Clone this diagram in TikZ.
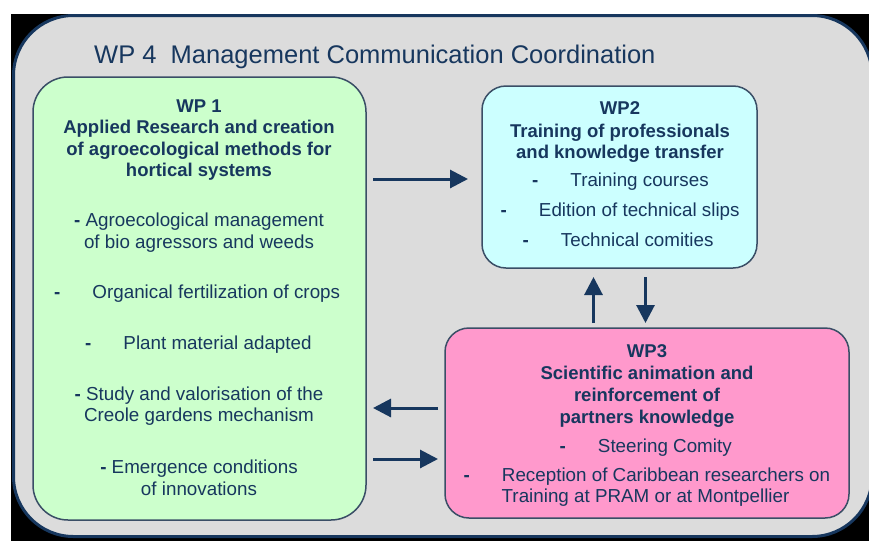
\documentclass[tikz,border=0pt]{standalone}
\usepackage{fontspec}
\setmainfont{Liberation Sans}
\usetikzlibrary{arrows.meta}

\definecolor{navy}{HTML}{17375E}
\definecolor{panel}{HTML}{DCDCDC}
\definecolor{edge}{HTML}{3A4E66}
\definecolor{wpgreen}{HTML}{CCFFCC}
\definecolor{wpcyan}{HTML}{CCFFFF}
\definecolor{wppink}{HTML}{FF99CC}

\newcommand\bodysize{\fontsize{18.8}{22}\selectfont}
\newcommand\headsize{\fontsize{18.5}{21.5}\selectfont\bfseries}
\newcommand\wpdash{\textbf{-}}
\newcommand\wpgap{\hspace{32pt}}

\begin{document}
\begin{tikzpicture}[x=1pt,y=-1pt,
  wpbox/.style={draw=edge, line width=1.5pt, rounded corners=#1, inner sep=0pt, outer sep=0pt},
  head/.style={anchor=base, inner sep=0pt, text=navy, font=\headsize},
  entry/.style={anchor=base, inner sep=0pt, text=navy, font=\bodysize},
  tabentry/.style={entry, anchor=base west},
  flow/.style={draw=navy, line width=3pt, -{Triangle[length=18pt,width=18pt]}}]

% 1. Frame of the page and the WP 4 panel
\useasboundingbox (0,0) rectangle (869,541);
\clip (0,0) rectangle (869,541);
\fill[black] (11,14) rectangle (869,541);
\node[draw=navy, fill=panel, line width=3pt, rounded corners=60pt, inner sep=0pt, outer sep=0pt,
      minimum width=858.5pt, minimum height=521pt] (wp4) at (442.75,276) {};
\node[anchor=base west, inner sep=0pt, text=navy, font=\fontsize{25.5}{30}\selectfont] (wp4-title)
      at (94,63) {WP 4\ \ Management Communication Coordination};

% 2. The three work package boxes
\node[wpbox=35pt, fill=wpgreen, minimum width=333pt, minimum height=443pt] (wp1) at (199.5,298.5) {};
\node[wpbox=24pt, fill=wpcyan, minimum width=275pt, minimum height=182pt] (wp2) at (619.5,177) {};
\node[wpbox=24pt, fill=wppink, minimum width=404pt, minimum height=190pt] (wp3) at (647,423) {};

% 3. WP 1 texts
\node[head] (wp1-h1) at (199,112) {WP 1};
\node[head] (wp1-h2) at (199,133.5) {Applied Research and creation};
\node[head] (wp1-h3) at (199,155) {of agroecological methods for};
\node[head] (wp1-h4) at (199,176.5) {hortical systems};
\node[entry] (wp1-a1) at (199,226.7) {\wpdash\ Agroecological management};
\node[entry] (wp1-a2) at (199,248.3) {of bio agressors and weeds};
\node[tabentry] (wp1-b) at (54,298.3) {\wpdash\wpgap Organical fertilization of crops};
\node[tabentry] (wp1-c) at (85,349.3) {\wpdash\wpgap Plant material adapted};
\node[entry] (wp1-d1) at (199,400.7) {\wpdash\ Study and valorisation of the};
\node[entry] (wp1-d2) at (199,421.7) {Creole gardens mechanism};
\node[entry] (wp1-e1) at (199,473.3) {\wpdash\ Emergence conditions};
\node[entry] (wp1-e2) at (199,495) {of innovations};

% 4. WP2 texts
\node[head] (wp2-h1) at (620,114.3) {WP2};
\node[head] (wp2-h2) at (620,137.3) {Training of professionals};
\node[head] (wp2-h3) at (620,158.3) {and knowledge transfer};
\node[tabentry] (wp2-a) at (532,186.7) {\wpdash\wpgap Training courses};
\node[tabentry] (wp2-b) at (500.5,216.7) {\wpdash\wpgap Edition of technical slips};
\node[tabentry] (wp2-c) at (522.5,246) {\wpdash\wpgap Technical comities};

% 5. WP3 texts
\node[head] (wp3-h1) at (647,357.7) {WP3};
\node[head] (wp3-h2) at (647,379.3) {Scientific animation and};
\node[head] (wp3-h3) at (647,401.7) {reinforcement of};
\node[head] (wp3-h4) at (647,423.3) {partners knowledge};
\node[tabentry] (wp3-a) at (559.5,452.3) {\wpdash\wpgap Steering Comity};
\node[tabentry] (wp3-b1) at (463.5,481.7) {\wpdash\wpgap Reception of Caribbean researchers on};
\node[tabentry] (wp3-b2) at (501.5,502.7) {Training at PRAM or at Montpellier};

% 6. Arrows between the boxes
\draw[flow, shorten <=7pt, shorten >=14pt] ([yshift=-2pt]wp2.west -| wp1.east) -- ([yshift=-2pt]wp2.west);
\draw[flow, shorten <=5pt, shorten >=9pt] ([xshift=-26pt]wp2.south |- wp3.north) -- ([xshift=-26pt]wp2.south);
\draw[flow, shorten <=9pt, shorten >=5pt] ([xshift=26pt]wp2.south) -- ([xshift=26pt]wp2.south |- wp3.north);
\draw[flow, shorten <=7pt, shorten >=7pt] ([yshift=15pt]wp3.west) -- ([yshift=15pt]wp3.west -| wp1.east);
\draw[flow, shorten <=7pt, shorten >=7pt] ([yshift=-36pt]wp3.west -| wp1.east) -- ([yshift=-36pt]wp3.west);

\end{tikzpicture}
\end{document}
